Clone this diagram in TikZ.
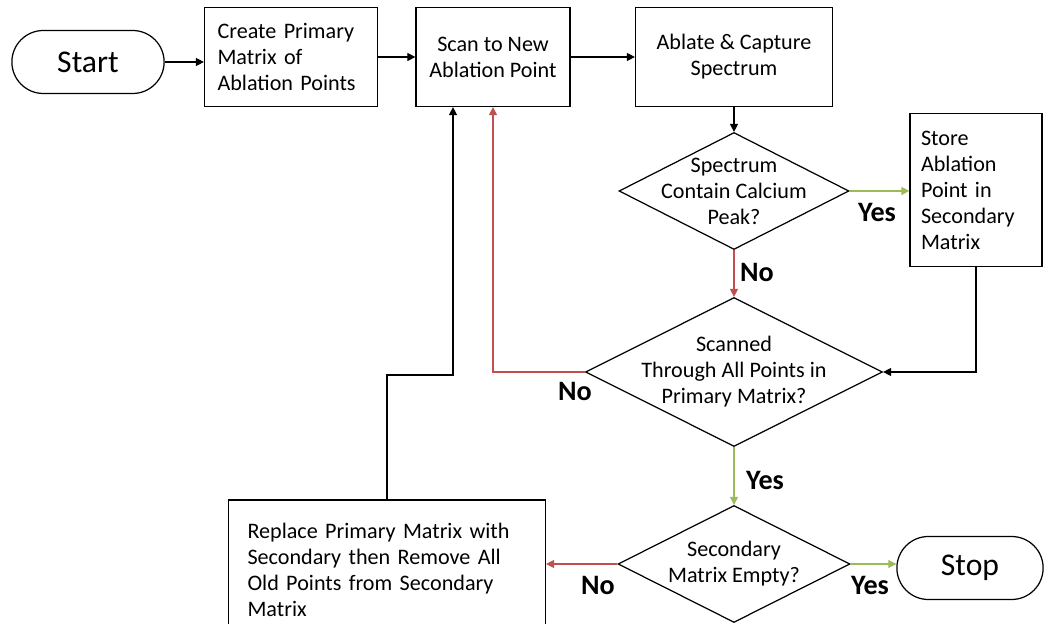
\documentclass[tikz,border=0pt]{standalone}
\usepackage{fontspec}
\setmainfont{Carlito}
\definecolor{nored}{RGB}{192, 80, 77}
\definecolor{yesgreen}{RGB}{155, 187, 89}
\usetikzlibrary{shapes, shapes.misc, arrows.meta, positioning}

\begin{document}
\begin{tikzpicture}[x=0.02cm, y=-0.02cm,
  box/.style={draw, line width=0.7pt, font=\fontsize{12.6}{14.8}\selectfont, inner sep=0pt},
  term/.style={draw, rounded rectangle, line width=0.7pt, minimum height=1.26cm, font=\fontsize{18}{21}\selectfont},
  decision/.style={draw, diamond, line width=0.7pt, inner sep=0pt},
  decisiontext/.style={align=center, inner sep=0pt, font=\fontsize{12.6}{14.8}\selectfont},
  answer/.style={font=\fontsize{16}{18}\selectfont\bfseries},
  arr/.style={-{Triangle[length=1.6mm, width=1.6mm]}, line width=0.6pt}]
  \clip (0, 0) rectangle (1045, 624);

  % ===== Top row =====
  \node[term, minimum width=3.28cm] (start) at (88, 62) {Start};
  \node[box, minimum width=3.46cm, minimum height=1.98cm, text width=2.94cm, align=left] (create) at (291, 57) {Create Primary\\Matrix of\\Ablation Points};
  \node[box, minimum width=3.08cm, minimum height=1.98cm, align=center] (scan) at (493, 57) {Scan to New\\Ablation Point};
  \node[box, minimum width=3.94cm, minimum height=1.98cm, align=center] (ablate) at (734, 57) {Ablate \& Capture\\Spectrum};

  \draw[arr] (start.east) -- (start.east -| create.west);
  \draw[arr] (create) -- (scan);
  \draw[arr] (scan) -- (ablate);

  % ===== Calcium check =====
  \node[decision, minimum width=4.6cm, minimum height=2.34cm,
    label={[decisiontext]center:Spectrum\\Contain Calcium\\Peak?}] (peak) at (734, 191) {};
  \node[box, minimum width=2.64cm, minimum height=3.06cm, text width=2.2cm, align=left] (store) at (976, 190) {Store\\Ablation\\Point in\\Secondary\\Matrix};

  \draw[arr] (ablate) -- (peak);
  \draw[arr, yesgreen] (peak.east) -- (peak.east -| store.west);
  \node[answer] (yes1) at (877, 212) {Yes};

  % ===== All points scanned? =====
  \node[decision, minimum width=5.94cm, minimum height=2.98cm,
    label={[decisiontext]center:Scanned\\Through All Points in\\Primary Matrix?}] (scanned) at (734, 372) {};

  \draw[arr, nored] (peak) -- (scanned);
  \node[answer] (no1) at (757, 272) {No};
  \draw[arr] (store.south) |- (scanned.east);
  \draw[arr, nored] (scanned.west) -| (scan.south);
  \node[answer] (no2) at (575, 391) {No};

  % ===== Secondary empty? =====
  \node[decision, minimum width=4.64cm, minimum height=2.34cm,
    label={[decisiontext]center:Secondary\\Matrix Empty?}] (empty) at (734, 564) {};
  \node[term, minimum width=3.16cm] (stop) at (970, 568) {Stop};
  \node[box, minimum width=6.34cm, minimum height=2.8cm, text width=5.58cm, align=left] (replace) at (387, 570) {Replace Primary Matrix with\\Secondary then Remove All\\Old Points from Secondary\\Matrix};

  \draw[arr, yesgreen] (scanned) -- (empty);
  \node[answer] (yes2) at (765, 480) {Yes};
  \draw[arr, yesgreen] (empty.east) -- (empty.east -| stop.west);
  \node[answer] (yes3) at (870, 585) {Yes};
  \draw[arr, nored] (empty.west) -- (empty.west -| replace.east);
  \node[answer] (no3) at (598, 585) {No};

  % loop back to scanning
  \coordinate (back) at (453, 375);
  \draw[arr] (replace.north) |- (back) -- (back |- scan.south);
\end{tikzpicture}
\end{document}
